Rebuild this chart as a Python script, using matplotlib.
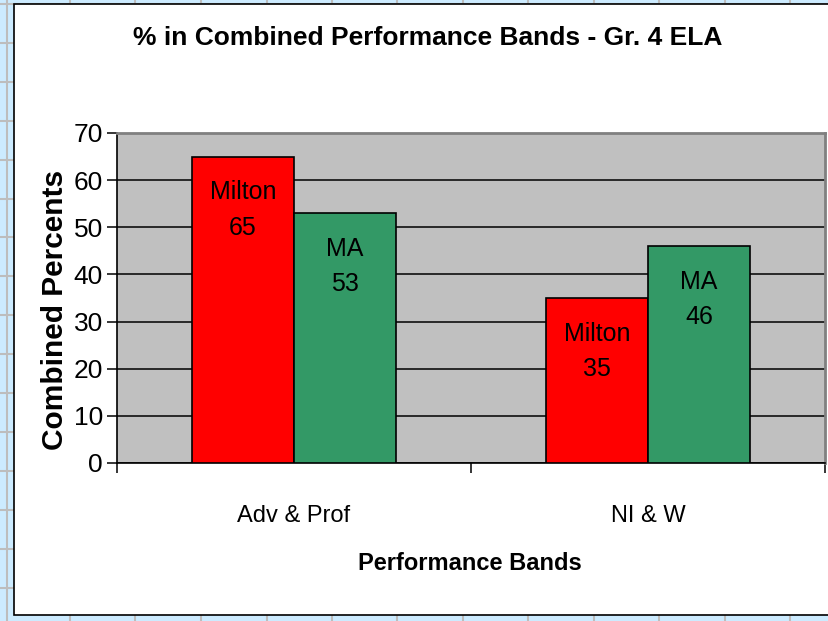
import matplotlib
matplotlib.use("Agg")
import matplotlib.pyplot as plt
from matplotlib.lines import Line2D
from matplotlib.patches import Rectangle

# Chart data
categories = ["Adv & Prof", "NI & W"]
series_names = ["Milton", "MA"]
milton_values = [65, 35]
ma_values = [53, 46]
y_ticks = [0, 10, 20, 30, 40, 50, 60, 70]

title = "% in Combined Performance Bands - Gr. 4 ELA"
x_label = "Performance Bands"
y_label = "Combined Percents"

narrow = ["Liberation Sans Narrow", "Liberation Sans", "DejaVu Sans"]
wide = ["Liberation Sans", "DejaVu Sans"]

W, H = 829, 621
fig = plt.figure(figsize=(W / 100, H / 100), dpi=100)
fig.patch.set_facecolor("#CCEBFF")

# spreadsheet cell grid behind the chart object
for x in [7] + [70 + 65.5 * i for i in range(13)]:
    fig.add_artist(Line2D([x / W, x / W], [0, 1], color="#BDBDBD", lw=1.5,
                          transform=fig.transFigure, zorder=0))
for y in [4] + [43 + 38.9 * i for i in range(16)]:
    fig.add_artist(Line2D([0, 1], [1 - y / H, 1 - y / H], color="#BDBDBD", lw=1.5,
                          transform=fig.transFigure, zorder=0))

# white chart area
fig.add_artist(Rectangle((14 / W, 1 - 615 / H), (W + 20 - 14) / W, (615 - 4) / H,
                         transform=fig.transFigure, facecolor="white",
                         edgecolor="black", lw=1.2, zorder=1))

ax = fig.add_axes([117 / W, 1 - 463 / H, 708 / W, 330 / H], zorder=2)
ax.set_facecolor("#C0C0C0")

x = [0, 1]
bw = 0.288
colors = ["#FF0000", "#339966"]
for vals, name, col, off in [(milton_values, series_names[0], colors[0], -bw / 2),
                             (ma_values, series_names[1], colors[1], bw / 2)]:
    pos = [xi + off for xi in x]
    ax.bar(pos, vals, width=bw, color=col, edgecolor="black", lw=1.2, zorder=3)
    for p, v in zip(pos, vals):
        ax.annotate(f"{name}\n{v}", xy=(p, v), xytext=(0, -17), textcoords="offset points",
                    ha="center", va="top", fontsize=18, family=narrow,
                    linespacing=1.6, zorder=4)

ax.set_xlim(-0.5, 1.5)
ax.set_ylim(0, 70)
ax.set_yticks(y_ticks)
ax.set_yticklabels([str(t) for t in y_ticks], fontsize=19, family=narrow)
ax.yaxis.grid(True, color="black", lw=1.1, zorder=1)
ax.set_axisbelow(True)

ax.set_xticks([-0.5, 0.5, 1.5])
ax.set_xticklabels([])
ax.set_xticks(x, minor=True)
ax.set_xticklabels(categories, minor=True, fontsize=17, family=narrow)
ax.tick_params(axis="x", which="minor", length=0, pad=30)
ax.tick_params(axis="x", which="major", length=7, width=1.1, direction="out")
ax.tick_params(axis="y", length=7, width=1.1, direction="out", pad=3)

for side in ["top", "right"]:
    ax.spines[side].set_color("#808080")
    ax.spines[side].set_linewidth(2)
for side in ["left", "bottom"]:
    ax.spines[side].set_color("black")
    ax.spines[side].set_linewidth(1.2)

fig.text(428 / W, 1 - 38 / H, title, ha="center", va="center", fontsize=19,
         fontweight="bold", family=narrow)
fig.text(470 / W, 1 - 563 / H, x_label, ha="center", va="center", fontsize=17,
         fontweight="bold", family=narrow)
fig.text(55 / W, 1 - 310 / H, y_label, ha="center", va="center", fontsize=21.5,
         fontweight="bold", family=wide, rotation=90)

fig.savefig("out.png", dpi=100, facecolor=fig.get_facecolor())
